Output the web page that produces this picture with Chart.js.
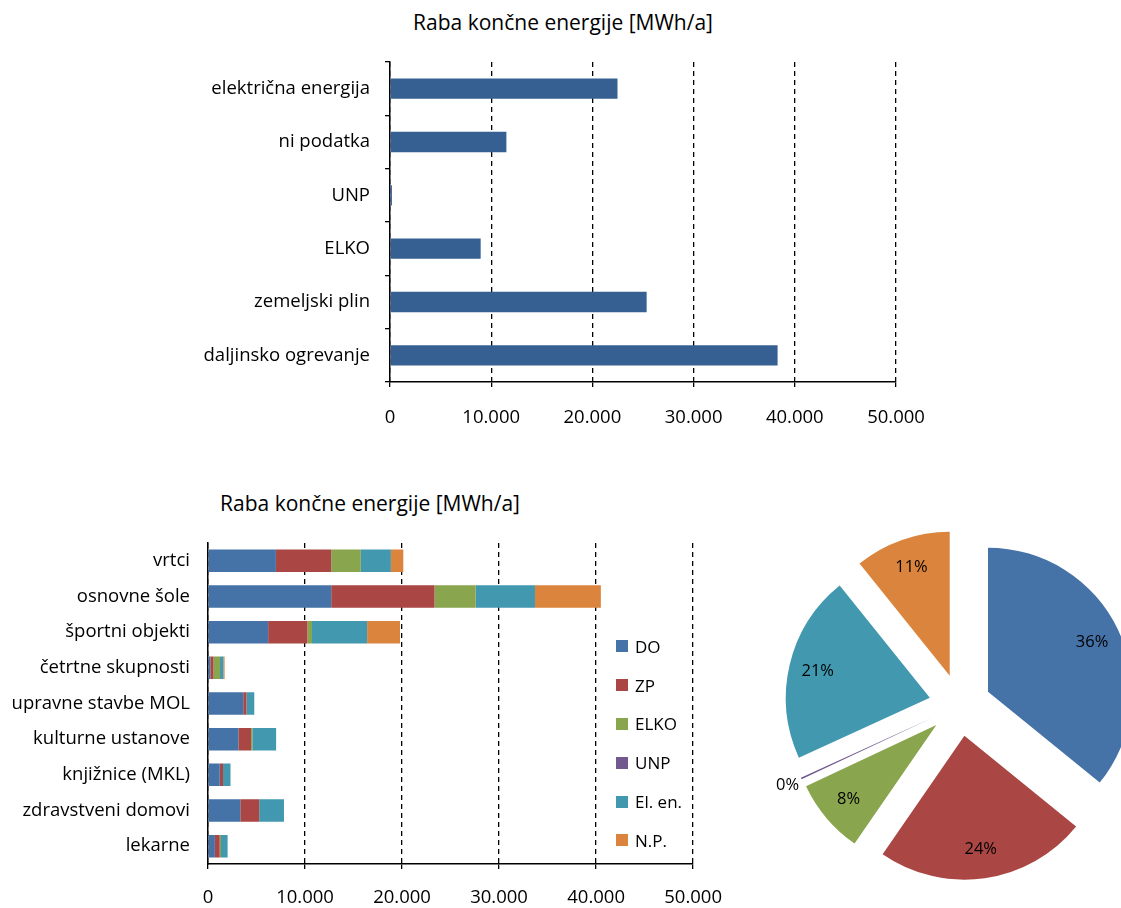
<!DOCTYPE html>
<html>
<head>
<meta charset="utf-8">
<script src="https://cdn.jsdelivr.net/npm/chart.js@4.4.0/dist/chart.umd.min.js"></script>
<style>
  body { margin: 0; width: 1121px; height: 908px; overflow: hidden; background: #fff; position: relative; font-family: "Open Sans", sans-serif; color: #000; }
  .chart-box { position: absolute; }
  .title { position: absolute; font-size: 21px; line-height: 28px; white-space: nowrap; transform: translateX(-50%); }
  #legend { position: absolute; left: 616px; top: 627px; font-size: 17px; }
  #legend div { height: 38.8px; display: flex; align-items: center; }
  #legend span.sw { width: 12px; height: 12px; margin-right: 7px; display: inline-block; }
</style>
</head>
<body>
<div class="title" style="left:563px; top:8px;">Raba končne energije [MWh/a]</div>
<div class="chart-box" style="left:0; top:0; width:1126px; height:450px;"><canvas id="fuelChart"></canvas></div>

<div class="title" style="left:370px; top:489px;">Raba končne energije [MWh/a]</div>
<div class="chart-box" style="left:0; top:470px; width:740px; height:438px;"><canvas id="buildingChart"></canvas></div>
<div id="legend"></div>

<div class="chart-box" style="left:760px; top:505px; width:400px; height:400px;"><canvas id="shareChart"></canvas></div>

<script>
// top chart: total by energy source
const fuelLabels = ["električna energija", "ni podatka", "UNP", "ELKO", "zemeljski plin", "daljinsko ogrevanje"];
const fuelTotals = [22480, 11500, 190, 8960, 25360, 38300];

// bottom chart: by building type, stacked by energy source
const buildingLabels = ["vrtci", "osnovne šole", "športni objekti", "četrtne skupnosti", "upravne stavbe MOL",
  "kulturne ustanove", "knjižnice (MKL)", "zdravstveni domovi", "lekarne"];
const seriesNames = ["DO", "ZP", "ELKO", "UNP", "El. en.", "N.P."];
const doValues   = [7000, 12700, 6200, 240, 3630, 3130, 1210, 3330, 710];
const zpValues   = [5700, 10650, 4050, 330, 340, 1310, 340, 1950, 500];
const elkoValues = [3050, 4240, 470, 670, 0, 130, 0, 0, 130];
const unpValues  = [0, 0, 0, 0, 0, 0, 0, 0, 0];
const elValues   = [3100, 6110, 5680, 340, 800, 2450, 770, 2550, 680];
const npValues   = [1280, 6790, 3390, 130, 0, 0, 0, 0, 0];

// pie: shares in series order DO, ZP, ELKO, UNP, El. en., N.P.
const shareValues = [38300, 25360, 8960, 190, 22480, 11500];

const axisTicks = [0, 10000, 20000, 30000, 40000, 50000];
const seriesColors = ["#4572A7", "#AA4643", "#89A54E", "#71588F", "#4198AF", "#DB843D"];

const fmt = v => String(v).replace(/\B(?=(\d{3})+(?!\d))/g, ".");
const labelFont = { family: "Open Sans", size: 18.5 };

function valueAxis(height, pad) {
  return {
    min: axisTicks[0],
    max: axisTicks[axisTicks.length - 1],
    afterBuildTicks: s => { s.ticks = axisTicks.map(v => ({ value: v })); },
    ticks: { callback: fmt, color: "#000", font: labelFont, padding: pad, maxRotation: 0 },
    grid: { color: "#000", lineWidth: 1.3, tickLength: 5, tickColor: "#000", tickWidth: 1.3 },
    border: { color: "#000", width: 1.5, dash: [5, 4] },
    afterFit: s => { s.height = height; }
  };
}

// top: horizontal bars
new Chart(document.getElementById("fuelChart"), {
  type: "bar",
  data: {
    labels: fuelLabels,
    datasets: [{ data: fuelTotals, backgroundColor: "#366092", barPercentage: 0.38, categoryPercentage: 1 }]
  },
  options: {
    indexAxis: "y",
    responsive: true,
    maintainAspectRatio: false,
    animation: false,
    layout: { padding: { top: 62, right: 230, left: 0, bottom: 0 } },
    plugins: { legend: { display: false }, tooltip: { enabled: false } },
    scales: {
      x: valueAxis(68, 20),
      y: {
        ticks: { color: "#000", font: labelFont, padding: 15 },
        grid: { drawOnChartArea: false, offset: true, tickLength: 5, color: "#000", lineWidth: 1.3 },
        border: { color: "#000", width: 1.5 },
        afterFit: s => { s.width = 390; }
      }
    }
  }
});

// bottom left: stacked bars per building type
const stackValues = [doValues, zpValues, elkoValues, unpValues, elValues, npValues];
new Chart(document.getElementById("buildingChart"), {
  type: "bar",
  data: {
    labels: buildingLabels,
    datasets: seriesNames.map((name, i) => ({
      label: name,
      data: stackValues[i],
      backgroundColor: seriesColors[i],
      barPercentage: 0.63,
      categoryPercentage: 1
    }))
  },
  options: {
    indexAxis: "y",
    responsive: true,
    maintainAspectRatio: false,
    animation: false,
    layout: { padding: { top: 73, right: 35, left: 0, bottom: 0 } },
    plugins: { legend: { display: false }, tooltip: { enabled: false } },
    scales: {
      x: Object.assign(valueAxis(44, 18), { stacked: true }),
      y: {
        stacked: true,
        ticks: { color: "#000", font: labelFont, padding: 18 },
        grid: { drawOnChartArea: false, drawTicks: false },
        border: { color: "#000", width: 1.5 },
        afterFit: s => { s.width = 208; }
      }
    }
  }
});

// legend for the stacked chart
document.getElementById("legend").innerHTML = seriesNames
  .map((n, i) => `<div><span class="sw" style="background:${seriesColors[i]}"></span>${n}</div>`)
  .join("");

// pie: explode slices and put percentage labels
const explode = {
  id: "explode",
  afterDatasetsUpdate(chart) {
    chart.getDatasetMeta(0).data.forEach(arc => {
      const mid = (arc.startAngle + arc.endAngle) / 2;
      arc.x += Math.cos(mid) * 31;
      arc.y += Math.sin(mid) * 31;
    });
  }
};
const pctLabels = {
  id: "pctLabels",
  afterDatasetsDraw(chart) {
    const { ctx } = chart;
    const vals = chart.data.datasets[0].data;
    const total = vals.reduce((a, b) => a + b, 0);
    ctx.save();
    ctx.font = "16.5px 'Open Sans'";
    ctx.fillStyle = "#000";
    ctx.textAlign = "center";
    ctx.textBaseline = "middle";
    chart.getDatasetMeta(0).data.forEach((arc, i) => {
      const pct = Math.round(vals[i] / total * 100);
      const mid = (arc.startAngle + arc.endAngle) / 2;
      const r = pct < 1 ? arc.outerRadius + 15 : arc.outerRadius * 0.8;
      ctx.fillText(pct + "%", arc.x + Math.cos(mid) * r, arc.y + Math.sin(mid) * r);
    });
    ctx.restore();
  }
};

new Chart(document.getElementById("shareChart"), {
  type: "pie",
  data: {
    labels: seriesNames,
    datasets: [{ data: shareValues, backgroundColor: seriesColors, borderWidth: 0 }]
  },
  options: {
    responsive: true,
    maintainAspectRatio: false,
    animation: false,
    radius: 144,
    plugins: { legend: { display: false }, tooltip: { enabled: false } }
  },
  plugins: [explode, pctLabels]
});
</script>
</body>
</html>
